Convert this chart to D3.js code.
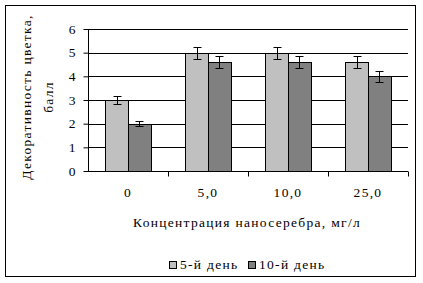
<!DOCTYPE html>
<html><head><meta charset="utf-8">
<script src="https://cdn.jsdelivr.net/npm/d3@7"></script>
</head><body style="margin:0;background:#fff"><svg id="c" width="423" height="283" style="display:block"></svg>
<script>
const categories = ["0", "5,0", "10,0", "25,0"];
const seriesNames = ["5-й день", "10-й день"];
const day5 = [3.0, 5.0, 5.0, 4.6];
const day10 = [2.0, 4.6, 4.6, 4.0];
const err5 = [0.15, 0.25, 0.25, 0.25];
const err10 = [0.1, 0.25, 0.25, 0.22];
const yTicks = [0, 1, 2, 3, 4, 5, 6];
const colors = ["#c0c0c0", "#808080"];

const FONT = "\"Liberation Serif\"";
const FS = "13.5px", LS = "1.3px";
function styleText(sel) {
  return sel.attr("font-family", null).attr("font-size", null)
    .style("font-family", FONT).style("font-size", FS).style("letter-spacing", LS).attr("fill", "#000");
}

const svg = d3.select("#c");
svg.append("rect").attr("x", 5.5).attr("y", 5.5).attr("width", 410).attr("height", 271)
  .attr("fill", "#fff").attr("stroke", "#000").attr("stroke-width", 1);

const L = 88, R = 408, T = 29, B = 171;
const x = d3.scaleBand().domain(categories).range([L, R]);
const xi = d3.scaleBand().domain([0, 1]).range([0, x.bandwidth()]).paddingInner(0).paddingOuter(0.75);
const y = d3.scaleLinear().domain([0, 6]).range([B, T]);

svg.append("g").selectAll("line").data(yTicks.filter(d => d > 0)).join("line")
  .attr("x1", L).attr("x2", R).attr("y1", d => Math.round(y(d)) + 0.5).attr("y2", d => Math.round(y(d)) + 0.5)
  .attr("stroke", "#000");

const series = [day5, day10];
const errs = [err5, err10];
series.forEach((vals, s) => {
  const g = svg.append("g");
  g.selectAll("rect").data(vals).join("rect")
    .attr("x", (d, i) => Math.round(x(categories[i]) + xi(s)) + 0.5)
    .attr("y", d => Math.round(y(d)) + 0.5)
    .attr("width", Math.round(xi.bandwidth()))
    .attr("height", d => Math.round(y(0)) - Math.round(y(d)))
    .attr("fill", colors[s]).attr("stroke", "#000");
  vals.forEach((d, i) => {
    const cx = Math.round(x(categories[i]) + xi(s) + xi.bandwidth() / 2) + 0.5;
    const y1 = Math.round(y(d + errs[s][i])) + 0.5, y2 = Math.round(y(d - errs[s][i])) + 0.5;
    g.append("line").attr("x1", cx).attr("x2", cx).attr("y1", y1).attr("y2", y2).attr("stroke", "#000");
    [y1, y2].forEach(yy => g.append("line").attr("x1", cx - 4).attr("x2", cx + 4).attr("y1", yy).attr("y2", yy).attr("stroke", "#000"));
  });
});

const ya = svg.append("g").attr("transform", `translate(${L + 0.5},0)`)
  .call(d3.axisLeft(y).tickValues(yTicks).tickSize(5).tickPadding(8).tickFormat(d3.format("d")));
ya.attr("font-family", null);
ya.select(".domain").attr("d", `M0,${T}V${B + 0.5}`);
styleText(ya.selectAll("text")).style("letter-spacing", "0px");
const xa = svg.append("g").attr("transform", `translate(0,${B + 0.5})`)
  .call(d3.axisBottom(x).tickSize(0).tickPadding(16));
xa.attr("font-family", null);
xa.select(".domain").attr("d", `M${L},0H${R}`);
styleText(xa.selectAll("text"));
xa.selectAll(".sep").data(d3.range(1, categories.length + 1)).join("line")
  .attr("x1", i => L + i * x.step() + 0.5).attr("x2", i => L + i * x.step() + 0.5)
  .attr("y1", 0).attr("y2", 5).attr("stroke", "#000");

styleText(svg.append("text").attr("x", 247).attr("y", 227).attr("text-anchor", "middle"))
  .text("Концентрация наносеребра, мг/л");
const yt = styleText(svg.append("text").attr("transform", `translate(0,97) rotate(-90)`).attr("text-anchor", "middle"));
yt.append("tspan").attr("x", 0).attr("y", 31).text("Декоративность цветка,");
yt.append("tspan").attr("x", 0).attr("y", 53).text("балл");

const lg = svg.append("g");
const legX = [169, 248];
seriesNames.forEach((n, s) => {
  lg.append("rect").attr("x", legX[s] + 0.5).attr("y", 261.5).attr("width", 7).attr("height", 7)
    .attr("fill", colors[s]).attr("stroke", "#000");
  styleText(lg.append("text").attr("x", legX[s] + 11).attr("y", 269)).text(n);
});
</script></body></html>
